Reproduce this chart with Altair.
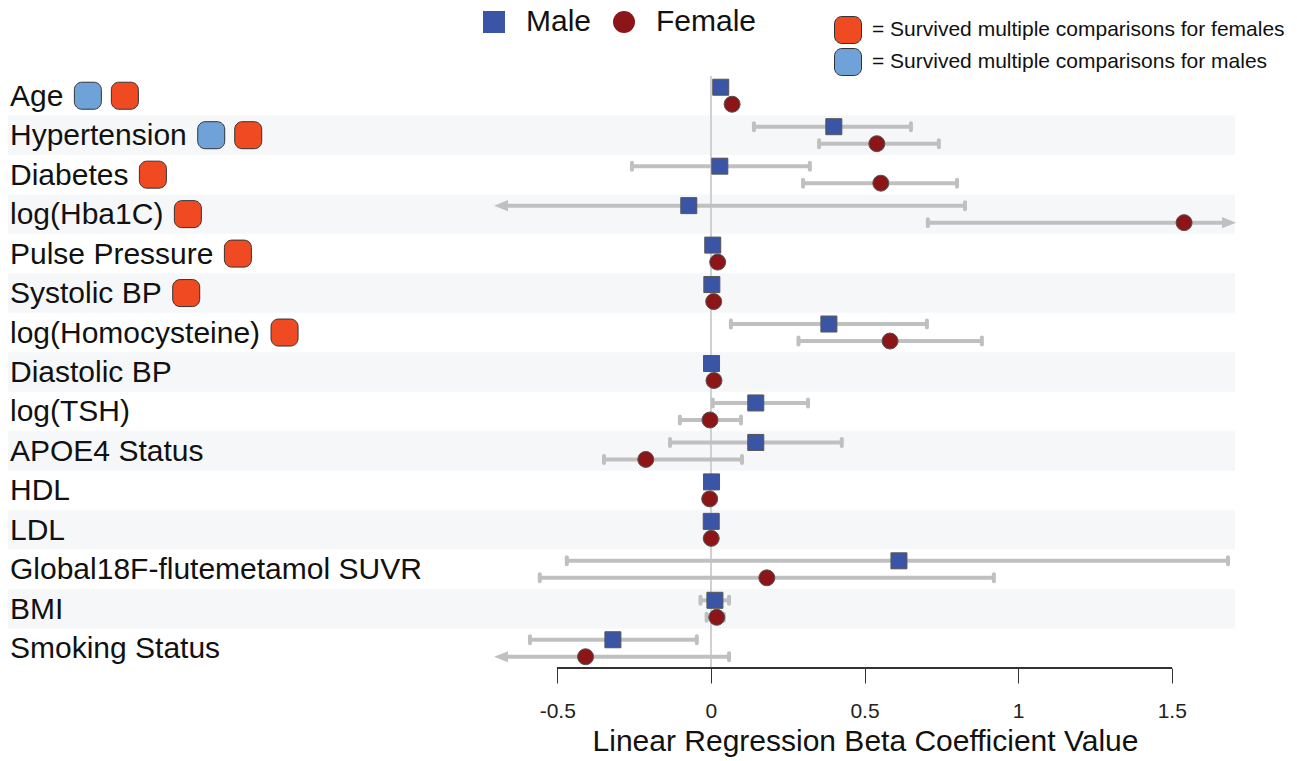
import json
import altair as alt
import pandas as pd

# ---------------- data ----------------
labels = ["Age", "Hypertension", "Diabetes", "log(Hba1C)", "Pulse Pressure",
          "Systolic BP", "log(Homocysteine)", "Diastolic BP", "log(TSH)",
          "APOE4 Status", "HDL", "LDL", "Global18F-flutemetamol SUVR", "BMI",
          "Smoking Status"]

male_beta = [0.032, 0.400, 0.029, -0.072, 0.006, 0.003, 0.384, 0.002, 0.146,
             0.146, 0.002, 0.001, 0.612, 0.013, -0.319]
male_lo = [0.024, 0.140, -0.257, None, 0.000, -0.003, 0.065, -0.004, 0.006,
           -0.133, -0.004, -0.005, -0.469, -0.034, -0.589]
male_hi = [0.040, 0.651, 0.322, 0.827, 0.012, 0.009, 0.703, 0.008, 0.316,
           0.426, 0.008, 0.007, 1.683, 0.059, -0.046]

female_beta = [0.069, 0.540, 0.553, 1.540, 0.022, 0.009, 0.583, 0.010, -0.003,
               -0.212, -0.004, 0.001, 0.182, 0.019, -0.408]
female_lo = [0.060, 0.352, 0.300, 0.706, 0.015, 0.002, 0.285, 0.003, -0.101,
             -0.348, -0.010, -0.005, -0.557, -0.014, None]
female_hi = [0.078, 0.742, 0.801, None, 0.029, 0.016, 0.882, 0.017, 0.098,
             0.101, 0.002, 0.007, 0.921, 0.042, 0.059]

sig_male = ["Age", "Hypertension"]
sig_female = ["Age", "Hypertension", "Diabetes", "log(Hba1C)", "Pulse Pressure",
              "Systolic BP", "log(Homocysteine)"]

sexes = ["Male", "Female"]
badge_kinds = ["= Survived multiple comparisons for females",
               "= Survived multiple comparisons for males"]

tick_values = [-0.5, 0, 0.5, 1, 1.5]
tick_labels = ["-0.5", "0", "0.5", "1", "1.5"]
x_domain = [-0.706, 1.709]
x_title = "Linear Regression Beta Coefficient Value"

# ---------------- layout / style ----------------
W, H = 742, 592
PAD = {"left": 494, "right": 61, "top": 76, "bottom": 93}
FONT = "Liberation Sans"
LABEL_FS = 30
LABEL_X = -484
BAND_X0, BAND_X1 = -486, 741
BAND_COLOR = "#f6f7f9"
CI_COLOR = "#c0c0c0"
MALE_FILL = "#3b55a6"
FEMALE_FILL = "#8b1517"
BADGE_RED = "#f04a23"
BADGE_BLUE = "#6ea2d8"
BADGE_PX = 27
ROUNDED = ("M-0.45,-1L0.45,-1C0.75,-1 1,-0.75 1,-0.45L1,0.45C1,0.75 0.75,1 0.45,1"
           "L-0.45,1C-0.75,1 -1,0.75 -1,0.45L-1,-0.45C-1,-0.75 -0.75,-1 -0.45,-1Z")
ARROW_L = "M-1,0L1,-0.8L1,0.8Z"
ARROW_R = "M1,0L-1,-0.8L-1,0.8Z"
ARROW_PX = 14

# Arial / Liberation Sans advance widths (1/1000 em) for badge placement
CW = {'A': 667, 'g': 556, 'e': 556, 'H': 722, 'y': 500, 'p': 556, 'r': 333,
      't': 278, 'n': 556, 's': 500, 'i': 222, 'o': 556, 'D': 722, 'a': 556,
      'b': 556, 'l': 222, '(': 333, ')': 333, '1': 556, 'C': 722, 'P': 667,
      'u': 556, ' ': 278, 'S': 667, 'c': 500, 'B': 667, 'm': 833}


def text_w(s):
    return sum(CW.get(ch, 556) for ch in s) * LABEL_FS / 1000.0


px_per_unit = W / (x_domain[1] - x_domain[0])
arrow_half = (ARROW_PX / 2) / px_per_unit

# ---------------- tables ----------------
rows, caps, arrows_l, arrows_r = [], [], [], []
for i, lab in enumerate(labels):
    for sex, b, lo, hi in (("Male", male_beta[i], male_lo[i], male_hi[i]),
                           ("Female", female_beta[i], female_lo[i], female_hi[i])):
        lo_c = lo if lo is not None else x_domain[0] + arrow_half
        hi_c = hi if hi is not None else x_domain[1] - arrow_half
        rows.append(dict(label=lab, sex=sex, beta=b, lo=lo_c, hi=hi_c))
        if lo is not None:
            caps.append(dict(label=lab, sex=sex, cx=lo))
        else:
            arrows_l.append(dict(label=lab, sex=sex, ax=lo_c))
        if hi is not None:
            caps.append(dict(label=lab, sex=sex, cx=hi))
        else:
            arrows_r.append(dict(label=lab, sex=sex, ax=hi_c))

df = pd.DataFrame(rows)
df_caps = pd.DataFrame(caps)
df_al = pd.DataFrame(arrows_l)
df_ar = pd.DataFrame(arrows_r)
df_labels = pd.DataFrame({"label": labels})
df_bands = pd.DataFrame({"label": labels[1::2]})

badges = []
for lab in labels:
    k = 0
    end = LABEL_X + text_w(lab) + 11 + BADGE_PX / 2
    if lab in sig_male:
        badges.append(dict(label=lab, kind=badge_kinds[1], bx=end + k * 37))
        k += 1
    if lab in sig_female:
        badges.append(dict(label=lab, kind=badge_kinds[0], bx=end + k * 37))
        k += 1
df_badges = pd.DataFrame(badges)

# ---------------- encodings ----------------
yscale = alt.Scale(type="band", domain=labels, paddingInner=0, paddingOuter=0)
Y = alt.Y("label:N", scale=yscale, axis=None, sort=labels)
YO = alt.YOffset("sex:N", scale=alt.Scale(type="band", domain=sexes,
                                          paddingInner=0, paddingOuter=0.16))
xscale = alt.Scale(domain=x_domain, nice=False, zero=False)
label_expr = "%s[indexof(%s, datum.value)]" % (json.dumps(tick_labels), json.dumps(tick_values))
xaxis = alt.Axis(values=tick_values, labelExpr=label_expr, domain=False, grid=False,
                 ticks=True, tickSize=15, tickColor="#333", tickWidth=1,
                 labelFontSize=21, labelColor="#222", labelPadding=17,
                 labelFont=FONT, title=x_title, titleFont=FONT, titleFontSize=30,
                 titleFontWeight="normal", titleColor="#111", titlePadding=5,
                 labelFlush=False)


def X(field):
    return alt.X(field, scale=xscale, axis=xaxis)


bands = alt.Chart(df_bands).mark_rect(color=BAND_COLOR).encode(
    y=Y, x=alt.value(BAND_X0), x2=alt.value(BAND_X1))

zero = alt.Chart(df_labels).mark_rule(color="#d0d0d0", strokeWidth=1).encode(
    x=alt.datum(0))

axis_line = alt.Chart(df_labels).mark_rule(color="#333", strokeWidth=1).encode(
    x=alt.datum(tick_values[0]), x2=alt.datum(tick_values[-1]), y=alt.value(H))

ci = alt.Chart(df).mark_rule(color=CI_COLOR, strokeWidth=4).encode(
    x=X("lo:Q"), x2="hi:Q", y=Y, yOffset=YO)

cap = alt.Chart(df_caps).mark_tick(color=CI_COLOR, thickness=4, size=11,
                                   cornerRadius=2, opacity=1).encode(
    x=X("cx:Q"), y=Y, yOffset=YO)

arrow_l = alt.Chart(df_al).mark_point(shape=ARROW_L, size=ARROW_PX ** 2, filled=True,
                                      color=CI_COLOR, opacity=1).encode(
    x=X("ax:Q"), y=Y, yOffset=YO)
arrow_r = alt.Chart(df_ar).mark_point(shape=ARROW_R, size=ARROW_PX ** 2, filled=True,
                                      color=CI_COLOR, opacity=1).encode(
    x=X("ax:Q"), y=Y, yOffset=YO)

sex_legend = alt.Legend(title=None, orient="none", legendX=-15, legendY=-69,
                        direction="horizontal", symbolSize=484, labelFontSize=30,
                        labelFont=FONT, labelColor="#111", labelOffset=17,
                        columnPadding=17, padding=0, symbolStrokeColor="#555",
                        symbolStrokeWidth=1, symbolOpacity=1)
markers = alt.Chart(df).mark_point(filled=True, size=256, stroke="#555",
                                   strokeWidth=1, opacity=1).encode(
    x=X("beta:Q"), y=Y, yOffset=YO,
    fill=alt.Fill("sex:N", scale=alt.Scale(domain=sexes, range=[MALE_FILL, FEMALE_FILL]),
                  legend=sex_legend),
    shape=alt.Shape("sex:N", scale=alt.Scale(domain=sexes, range=["square", "circle"]),
                    legend=sex_legend))

text = alt.Chart(df_labels).mark_text(align="left", baseline="middle", dy=1,
                                      fontSize=LABEL_FS, font=FONT, color="#111").encode(
    x=alt.value(LABEL_X), y=Y, text="label:N")

badge_legend = alt.Legend(title=None, orient="none", legendX=340, legendY=-60,
                          direction="vertical", symbolType=ROUNDED,
                          symbolSize=BADGE_PX ** 2, symbolStrokeColor="#333",
                          symbolStrokeWidth=1, symbolOpacity=1, labelFontSize=21,
                          labelFont=FONT, labelColor="#111", labelOffset=10,
                          rowPadding=0, padding=0, labelLimit=0)
badge = alt.Chart(df_badges).mark_point(shape=ROUNDED, size=BADGE_PX ** 2, filled=True,
                                        stroke="#333", strokeWidth=1, opacity=1).encode(
    x=alt.X("bx:Q", scale=None, axis=None), y=Y,
    color=alt.Color("kind:N", scale=alt.Scale(domain=badge_kinds,
                                              range=[BADGE_RED, BADGE_BLUE]),
                    legend=badge_legend))

chart = alt.layer(bands, zero, axis_line, ci, cap, arrow_l, arrow_r, markers, text, badge
                  ).properties(
    width=W, height=H, autosize=alt.AutoSizeParams(type="none"), padding=PAD,
    background="white"
).configure(font=FONT).configure_view(stroke=None)

chart.save("out.html", embed_options={"renderer": "svg", "actions": False})
